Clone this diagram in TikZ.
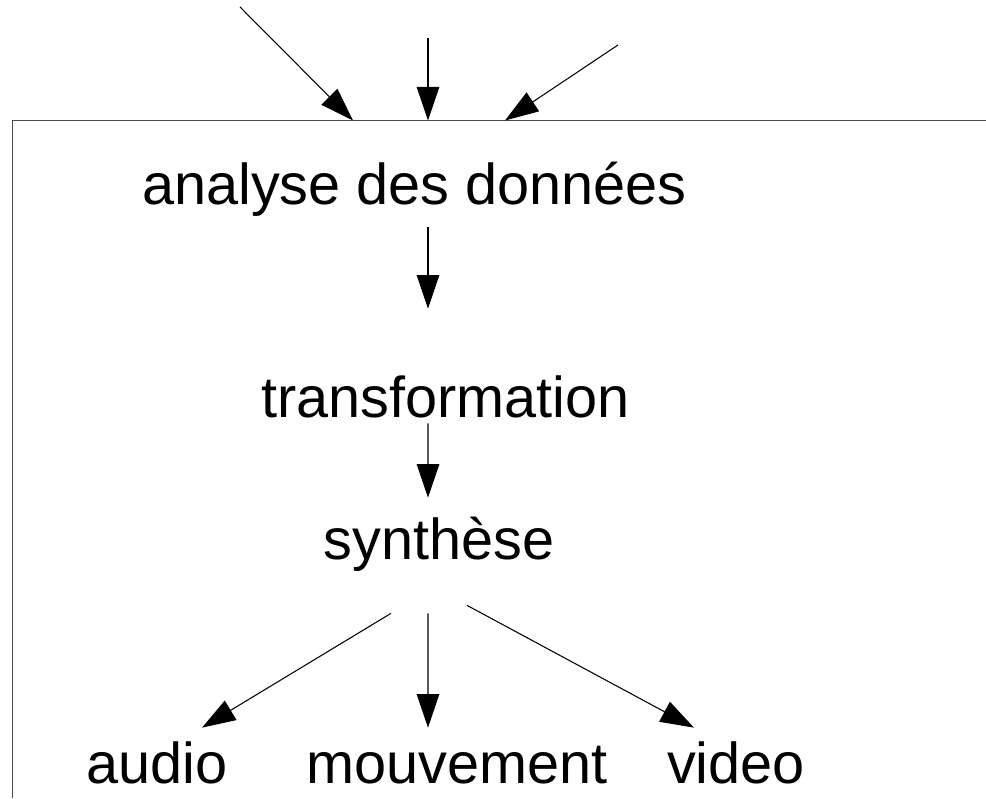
\documentclass[tikz,border=0pt]{standalone}
\usepackage{fontspec}
\setmainfont{Liberation Sans}
\usetikzlibrary{arrows.meta}

\begin{document}
\begin{tikzpicture}[font = {\fontsize{32.8pt}{38pt}\selectfont},
	word/.style = {inner sep = 0pt, anchor = base, text height = 0.8cm, text depth = 0.25cm},
	flow/.style = {-{Triangle[length = 0.67cm, width = 0.45cm]}, line width = 0.6pt}]
\useasboundingbox (0,0) rectangle (19.72, 15.96);

\draw[black!70, line width = 0.9pt] (19.72, 13.55) -- (0.25, 13.55) -- (0.25, 0);

\node[word] (ANA) at (8.29, 11.86) {analyse des données};
\node[word] (TRF) at (8.91, 7.60) {transformation};
\node[word] (SYN) at (8.78, 4.76) {synthèse};
\node[word] (AUD) at (3.14, 0.30) {audio};
\node[word] (MVT) at (9.14, 0.30) {mouvement};
\node[word] (VID) at (14.72, 0.30) {video};

\coordinate (SRC1) at (4.80, 15.82);
\coordinate (SRC2) at (8.56, 15.20);
\coordinate (SRC3) at (12.36, 15.06);
\coordinate (IN1) at (7.06, 13.55);
\coordinate (IN2) at (8.56, 13.55);
\coordinate (IN3) at (10.10, 13.55);

\draw[flow] (SRC1) -- (IN1);
\draw[flow] (SRC2) -- (IN2);
\draw[flow] (SRC3) -- (IN3);
\draw[flow] ([xshift = 0.27cm, yshift = -0.19cm]ANA.south) -- ([xshift = -0.35cm, yshift = 1.38cm]TRF.north);
\draw[flow] ([xshift = -0.35cm, yshift = 0.15cm]TRF.south) -- ([xshift = -0.22cm, yshift = 0.44cm]SYN.north);
\draw[flow] ([xshift = -0.96cm, yshift = -0.81cm]SYN.south) -- ([xshift = 0.9cm, yshift = 0.3cm]AUD.north);
\draw[flow] ([xshift = -0.22cm, yshift = -0.81cm]SYN.south) -- ([xshift = -0.58cm, yshift = 0.3cm]MVT.north);
\draw[flow] ([xshift = 0.56cm, yshift = -0.65cm]SYN.south) -- ([xshift = -0.84cm, yshift = 0.3cm]VID.north);
\end{tikzpicture}
\end{document}
